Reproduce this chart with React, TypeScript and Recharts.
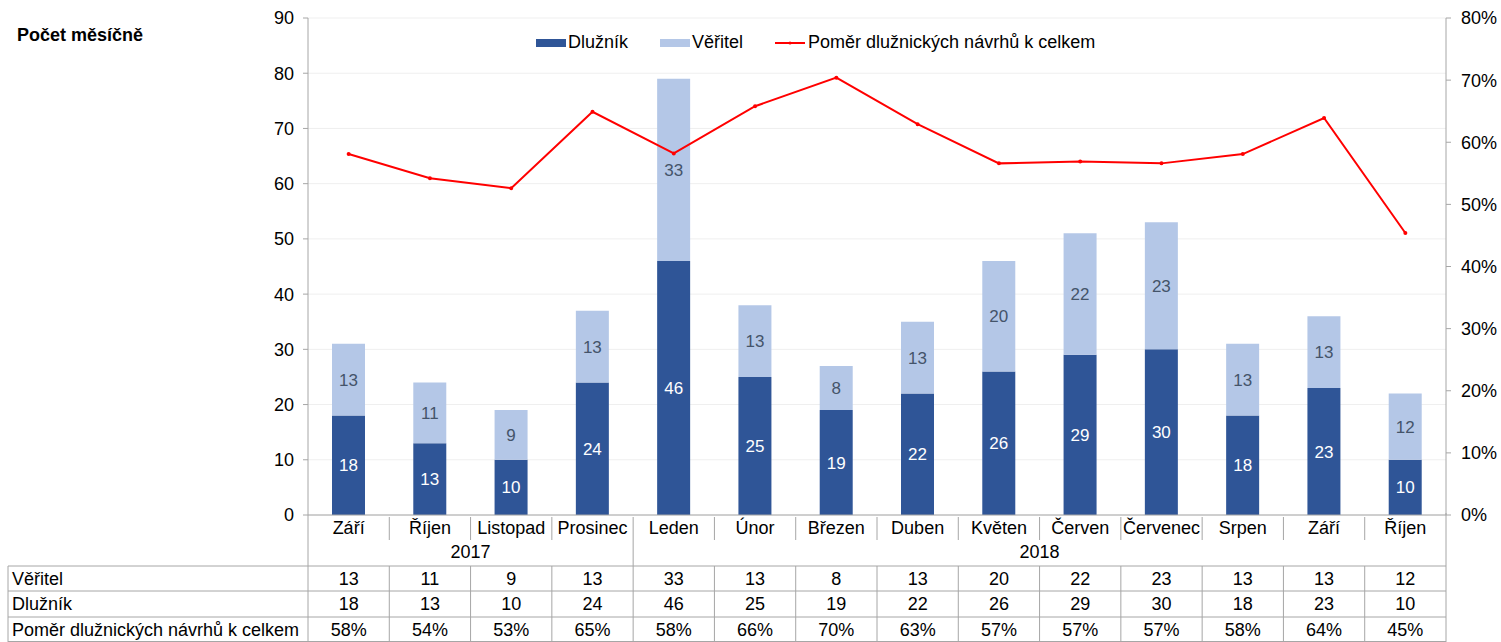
import { ComposedChart, Bar, Line, XAxis, YAxis, CartesianGrid, LabelList } from 'recharts';

const months = ['Září', 'Říjen', 'Listopad', 'Prosinec', 'Leden', 'Únor', 'Březen', 'Duben', 'Květen', 'Červen', 'Červenec', 'Srpen', 'Září', 'Říjen'];
const yearGroups = [
  { label: '2017', start: 0, count: 4 },
  { label: '2018', start: 4, count: 10 },
];
const dluznik = [18, 13, 10, 24, 46, 25, 19, 22, 26, 29, 30, 18, 23, 10];
const veritel = [13, 11, 9, 13, 33, 13, 8, 13, 20, 22, 23, 13, 13, 12];
const pomer = [0.581, 0.542, 0.526, 0.649, 0.582, 0.658, 0.704, 0.629, 0.566, 0.569, 0.566, 0.581, 0.639, 0.454];
const leftTicks = [0, 10, 20, 30, 40, 50, 60, 70, 80, 90];
const rightTicks = [0, 0.1, 0.2, 0.3, 0.4, 0.5, 0.6, 0.7, 0.8];

const data = months.map((m, i) => ({
  key: `${m}-${i}`,
  dluznik: dluznik[i],
  veritel: veritel[i],
  pomer: pomer[i],
}));

const W = 1501;
const H = 642;
const LEFT_W = 308;
const RIGHT_W = 55;
const TOP = 18;
const BAND = (W - LEFT_W - RIGHT_W) / months.length;
const PLOT_RIGHT = W - RIGHT_W;
const FONT = '"Liberation Sans", Arial, sans-serif';
const FS = 18;
const TXT = '#000';
const GRID_LINE = '#a6a6a6';
const DARK = '#2F5597';
const LIGHT = '#B4C7E7';

const pct = (v: number) => `${Math.round(v * 100)}%`;

const MonthTick = ({ x, y, payload }: any) => {
  const i = payload.index;
  const left = x - BAND / 2;
  const isGroupStart = yearGroups.some((g) => g.start === i);
  return (
    <g>
      <text x={x} y={y + 13} textAnchor="middle" dominantBaseline="central" fontSize={FS} fontFamily={FONT} fill={TXT}>
        {months[i]}
      </text>
      {i === 0 && <line x1={left} x2={left} y1={y} y2={H} stroke={GRID_LINE} />}
      {i > 0 && <line x1={left} x2={left} y1={y + 2} y2={y + (isGroupStart ? 51 : 25)} stroke={GRID_LINE} />}
      {i === months.length - 1 && <line x1={x + BAND / 2} x2={x + BAND / 2} y1={y - 2} y2={H} stroke={GRID_LINE} />}
    </g>
  );
};

const YearTick = ({ x, y, payload }: any) => {
  const g = yearGroups.find((yg) => yg.start === payload.index);
  if (!g) return null;
  const cx = x - BAND / 2 + (g.count * BAND) / 2;
  return (
    <text x={cx} y={y + 12} textAnchor="middle" dominantBaseline="central" fontSize={FS} fontFamily={FONT} fill={TXT}>
      {g.label}
    </text>
  );
};

const makeRowTick = (label: string, values: string[], rowH: number, last = false) => {
  return ({ x, y, payload }: any) => {
    const i = payload.index;
    const left = x - BAND / 2;
    return (
      <g>
        {i === 0 && (
          <g>
            <line x1={8} x2={PLOT_RIGHT} y1={y} y2={y} stroke={GRID_LINE} />
            <line x1={8} x2={8} y1={y} y2={y + rowH} stroke={GRID_LINE} />
            {last && <line x1={8} x2={PLOT_RIGHT} y1={y + rowH - 0.5} y2={y + rowH - 0.5} stroke={GRID_LINE} />}
            <text x={12} y={y + rowH / 2} dominantBaseline="central" fontSize={FS} fontFamily={FONT} fill={TXT}>
              {label}
            </text>
          </g>
        )}
        {i > 0 && <line x1={left} x2={left} y1={y} y2={y + rowH} stroke={GRID_LINE} />}
        <text x={x} y={y + rowH / 2} textAnchor="middle" dominantBaseline="central" fontSize={FS} fontFamily={FONT} fill={TXT}>
          {values[i]}
        </text>
      </g>
    );
  };
};

const VeritelTick = makeRowTick('Věřitel', veritel.map(String), 25);
const DluznikTick = makeRowTick('Dlužník', dluznik.map(String), 26);
const PomerTick = makeRowTick('Poměr dlužnických návrhů k celkem', pomer.map(pct), 25, true);

const legendItems = [
  { name: 'Dlužník', color: DARK, type: 'rect' },
  { name: 'Věřitel', color: LIGHT, type: 'rect' },
  { name: 'Poměr dlužnických návrhů k celkem', color: '#FF0000', type: 'line' },
];

export default function App() {
  return (
    <div style={{ position: 'relative', width: W, height: H, background: '#fff', fontFamily: FONT }}>
      <style>{`body{margin:0}`}</style>
      <div style={{ position: 'absolute', left: 17, top: 25, fontSize: FS, fontWeight: 'bold', color: TXT }}>Počet měsíčně</div>
      <div style={{ position: 'absolute', left: 536, top: 32, display: 'flex', alignItems: 'center', fontSize: FS, color: TXT, zIndex: 2 }}>
        {legendItems.map((it) => (
          <div key={it.name} style={{ display: 'flex', alignItems: 'center', marginRight: 32 }}>
            {it.type === 'rect' ? (
              <span style={{ display: 'inline-block', width: 30, height: 8, background: it.color, marginRight: 2 }} />
            ) : (
              <svg width={30} height={8} style={{ marginRight: 3 }}>
                <line x1={0} x2={30} y1={4} y2={4} stroke={it.color} strokeWidth={2} />
                <circle cx={15} cy={4} r={1.5} fill={it.color} />
              </svg>
            )}
            <span>{it.name}</span>
          </div>
        ))}
      </div>
      <ComposedChart width={W} height={H} data={data} margin={{ top: TOP, right: 0, left: 0, bottom: 0 }} barGap={0}>
        <CartesianGrid yAxisId="left" xAxisId="a_month" vertical={false} stroke="#efefef" />
        <XAxis xAxisId="a_month" dataKey="key" height={25} interval={0} tick={<MonthTick />} tickSize={0} tickMargin={0} axisLine={{ stroke: GRID_LINE }} tickLine={false} />
        <XAxis xAxisId="b_year" dataKey="key" height={26} interval={0} tick={<YearTick />} tickSize={0} tickMargin={0} axisLine={false} tickLine={false} />
        <XAxis xAxisId="c_ver" dataKey="key" height={25} interval={0} tick={<VeritelTick />} tickSize={0} tickMargin={0} axisLine={false} tickLine={false} />
        <XAxis xAxisId="d_dl" dataKey="key" height={26} interval={0} tick={<DluznikTick />} tickSize={0} tickMargin={0} axisLine={false} tickLine={false} />
        <XAxis xAxisId="e_pom" dataKey="key" height={25} interval={0} tick={<PomerTick />} tickSize={0} tickMargin={0} axisLine={false} tickLine={false} />
        <YAxis
          yAxisId="left"
          width={LEFT_W}
          domain={[0, 90]}
          ticks={leftTicks}
          interval={0}
          tickSize={5}
          tickMargin={9}
          axisLine={{ stroke: GRID_LINE }}
          tickLine={{ stroke: GRID_LINE }}
          tick={{ fontSize: FS, fill: TXT, fontFamily: FONT }}
        />
        <YAxis
          yAxisId="right"
          orientation="right"
          width={RIGHT_W}
          domain={[0, 0.8]}
          ticks={rightTicks}
          interval={0}
          tickSize={5}
          tickMargin={10}
          tickFormatter={pct}
          axisLine={{ stroke: GRID_LINE }}
          tickLine={{ stroke: GRID_LINE }}
          tick={{ fontSize: FS, fill: TXT, fontFamily: FONT }}
        />
        <Bar xAxisId="a_month" yAxisId="left" dataKey="dluznik" name="Dlužník" stackId="a" fill={DARK} barSize={33} isAnimationActive={false}>
          <LabelList dataKey="dluznik" position="center" fill="#fff" fontSize={17} fontFamily={FONT} />
        </Bar>
        <Bar xAxisId="a_month" yAxisId="left" dataKey="veritel" name="Věřitel" stackId="a" fill={LIGHT} barSize={33} isAnimationActive={false}>
          <LabelList dataKey="veritel" position="center" fill="#44546A" fontSize={17} fontFamily={FONT} />
        </Bar>
        <Line
          xAxisId="a_month"
          yAxisId="right"
          dataKey="pomer"
          name="Poměr dlužnických návrhů k celkem"
          stroke="#FF0000"
          strokeWidth={2}
          dot={{ r: 1, fill: '#FF0000', stroke: '#FF0000' }}
          isAnimationActive={false}
        />
      </ComposedChart>
    </div>
  );
}
